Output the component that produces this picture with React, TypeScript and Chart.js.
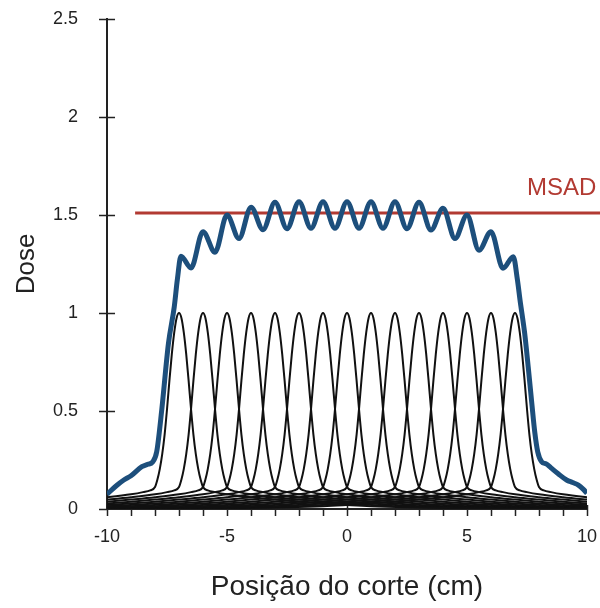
import React, { useEffect, useRef } from "react";
import { Chart, registerables } from "chart.js";

Chart.register(...registerables);

// Centres of the 15 single-slice dose profiles (cm)
const SLICE_CENTERS = [-7, -6, -5, -4, -3, -2, -1, 0, 1, 2, 3, 4, 5, 6, 7];

// Single-slice dose profile: offsets from centre (cm) and dose
const PROFILE_OFFSET = [
  -17, -12, -10, -8, -6, -5, -4, -3, -2, -1.5, -1.2, -1, -0.9, -0.8, -0.7, -0.6, -0.5, -0.4, -0.3, -0.2, -0.1,
  0, 0.1, 0.2, 0.3, 0.4, 0.5, 0.6, 0.7, 0.8, 0.9, 1, 1.2, 1.5, 2, 3, 4, 5, 6, 8, 10, 12, 17,
];
const PROFILE_DOSE = [
  0.001, 0.004, 0.008, 0.014, 0.028, 0.037, 0.048, 0.06, 0.075, 0.086, 0.095, 0.112, 0.15, 0.205, 0.28, 0.38, 0.51, 0.655, 0.79, 0.9, 0.975,
  1, 0.975, 0.9, 0.79, 0.655, 0.51, 0.38, 0.28, 0.205, 0.15, 0.112, 0.095, 0.086, 0.075, 0.06, 0.048, 0.037, 0.028, 0.014, 0.008, 0.004, 0.001,
];

// Multiple-scan (summed) dose profile
const SUM_X = [
  -10, -9.6, -9.3, -9.0, -8.55, -8.3, -8.1, -7.93, -7.72, -7.44, -7.2, -7.07, -6.92,
  -6.5, -6, -5.5, -5, -4.5, -4, -3.5, -3, -2.5, -2, -1.5, -1, -0.5, 0,
  0.5, 1, 1.5, 2, 2.5, 3, 3.5, 4, 4.5, 5, 5.5, 6, 6.5, 6.93,
  7.1, 7.21, 7.4, 7.55, 7.7, 7.83, 7.95, 8.11, 8.3, 8.5, 8.8, 9.15, 9.4, 9.64, 9.85, 10,
];
const SUM_DOSE = [
  0.075, 0.12, 0.148, 0.17, 0.216, 0.228, 0.24, 0.292, 0.505, 0.845, 1.03, 1.17, 1.29,
  1.23, 1.415, 1.31, 1.5, 1.38, 1.54, 1.425, 1.565, 1.43, 1.568, 1.432, 1.568, 1.432, 1.568,
  1.432, 1.568, 1.432, 1.568, 1.43, 1.565, 1.423, 1.534, 1.38, 1.5, 1.32, 1.415, 1.228, 1.287,
  1.17, 1.066, 0.9, 0.726, 0.54, 0.386, 0.29, 0.241, 0.23, 0.21, 0.18, 0.148, 0.135, 0.122, 0.1, 0.08,
];

// MSAD level line
const MSAD_X = [-8.83, 10.55];
const MSAD_VALUE = 1.51;
const MSAD_LABEL = "MSAD";
const MSAD_LABEL_POS = { x: 7.5, y: 1.6 };

const X_TITLE = "Posição do corte (cm)";
const Y_TITLE = "Dose";

const FONT = "'Liberation Sans', Arial, Helvetica, sans-serif";
const AXIS_COLOR = "#222";
const BLUE = "#1d4f7c";
const RED = "#b23a32";

export default function App() {
  const canvasRef = useRef<HTMLCanvasElement | null>(null);

  useEffect(() => {
    const canvas = canvasRef.current;
    if (!canvas) return;

    // Tick marks crossing the axes, placed from the scales' own ticks
    const axisTicks = {
      id: "axisTicks",
      beforeDatasetsDraw(chart: any) {
        const { ctx, scales } = chart;
        const xs = scales.x;
        const ys = scales.y;
        ctx.save();
        ctx.strokeStyle = AXIS_COLOR;
        ctx.lineWidth = 1.5;
        ctx.beginPath();
        ys.ticks.forEach((t: any) => {
          const py = Math.round(ys.getPixelForValue(t.value)) + 0.5;
          ctx.moveTo(xs.left - 8, py);
          ctx.lineTo(t.value === 0 ? xs.left : xs.left + 8, py);
        });
        xs.ticks.forEach((t: any) => {
          const px = Math.round(xs.getPixelForValue(t.value)) + 0.5;
          const major = t.value % 5 === 0;
          ctx.moveTo(px, ys.bottom + 7);
          ctx.lineTo(px, major ? ys.bottom - 4 : ys.bottom);
        });
        ctx.stroke();
        ctx.restore();
      },
    };

    const msadLabel = {
      id: "msadLabel",
      afterDatasetsDraw(chart: any) {
        const { ctx, scales } = chart;
        ctx.save();
        ctx.fillStyle = RED;
        ctx.font = `24px ${FONT}`;
        ctx.textAlign = "left";
        ctx.textBaseline = "alphabetic";
        ctx.fillText(
          MSAD_LABEL,
          scales.x.getPixelForValue(MSAD_LABEL_POS.x),
          scales.y.getPixelForValue(MSAD_LABEL_POS.y)
        );
        ctx.restore();
      },
    };

    const sliceDatasets = SLICE_CENTERS.map((c) => ({
      label: `slice ${c}`,
      data: PROFILE_OFFSET.map((d, i) => ({ x: c + d, y: PROFILE_DOSE[i] })),
      borderColor: "#111",
      borderWidth: 2,
      pointRadius: 0,
      fill: false,
      cubicInterpolationMode: "monotone" as const,
    }));

    const chart = new Chart(canvas, {
      type: "line",
      data: {
        datasets: [
          {
            label: "Perfil",
            data: SUM_X.map((x, i) => ({ x, y: SUM_DOSE[i] })),
            borderColor: BLUE,
            borderWidth: 5,
            pointRadius: 0,
            fill: false,
            cubicInterpolationMode: "monotone",
          },
          {
            label: MSAD_LABEL,
            data: MSAD_X.map((x) => ({ x, y: MSAD_VALUE })),
            borderColor: RED,
            borderWidth: 3,
            pointRadius: 0,
            fill: false,
            clip: false as any,
          },
          ...sliceDatasets,
        ],
      },
      options: {
        responsive: false,
        animation: false,
        layout: { padding: { left: 0, right: 13, top: 19, bottom: 0 } },
        plugins: { legend: { display: false }, tooltip: { enabled: false } },
        scales: {
          x: {
            type: "linear",
            min: -10,
            max: 10,
            ticks: {
              stepSize: 1,
              autoSkip: false,
              maxRotation: 0,
              padding: 3,
              color: AXIS_COLOR,
              font: { family: FONT, size: 18 },
              callback: (v: any) => (Number(v) % 5 === 0 ? String(v) : ""),
            },
            grid: {
              drawOnChartArea: false,
              drawTicks: true,
              tickLength: 14,
              tickColor: "rgba(0,0,0,0)",
            },
            border: { color: AXIS_COLOR, width: 2 },
            title: {
              display: true,
              text: X_TITLE,
              color: AXIS_COLOR,
              font: { family: FONT, size: 28 },
              padding: { top: 19.6, bottom: 4.2 },
            },
          },
          y: {
            type: "linear",
            min: 0,
            max: 2.5,
            ticks: {
              stepSize: 0.5,
              padding: 8,
              color: AXIS_COLOR,
              font: { family: FONT, size: 18 },
              callback: (v: any) => String(Number(v)),
            },
            grid: {
              drawOnChartArea: false,
              drawTicks: true,
              tickLength: 21,
              tickColor: "rgba(0,0,0,0)",
            },
            border: { color: AXIS_COLOR, width: 2 },
            title: {
              display: true,
              text: Y_TITLE,
              color: AXIS_COLOR,
              font: { family: FONT, size: 26 },
              padding: { top: 11.4, bottom: 2.4 },
            },
          },
        },
      },
      plugins: [axisTicks, msadLabel],
    });

    return () => chart.destroy();
  }, []);

  return (
    <div style={{ position: "absolute", left: 0, top: 0, width: 600, height: 608, background: "#fff" }}>
      <canvas ref={canvasRef} width={600} height={608} style={{ display: "block" }} />
    </div>
  );
}
